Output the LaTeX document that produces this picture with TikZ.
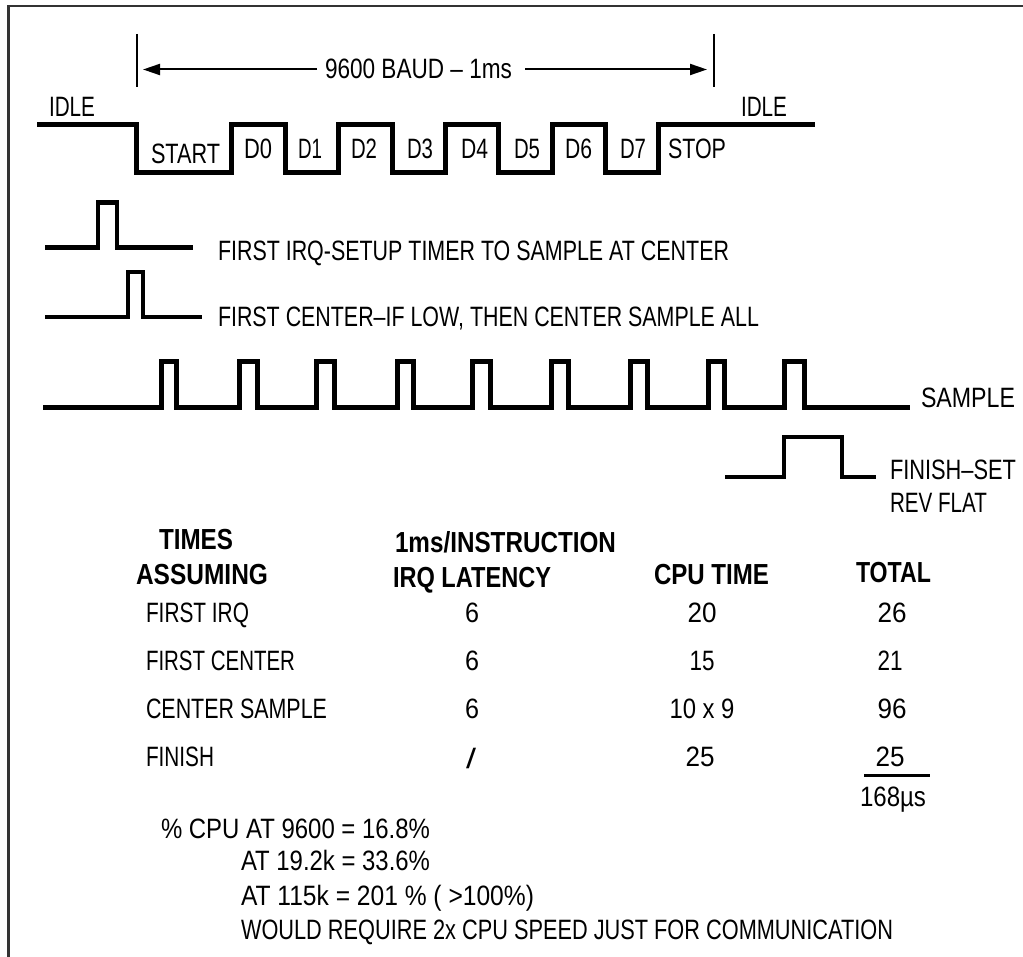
\documentclass[tikz,border=0pt]{standalone}
\usepackage{graphicx}
\usepackage{fontspec}
\setmainfont{Liberation Sans}
\usetikzlibrary{arrows.meta}
\newcommand{\fitw}[2]{\resizebox{#1pt}{\height}{#2}}
\tikzset{
  txt/.style={inner sep=0pt,outer sep=0pt,anchor=base west,text=black,font=\fontsize{28}{32}\selectfont},
  ctr/.style={txt,anchor=base},
  bld/.style={txt,text=black,font=\fontsize{29}{32}\selectfont\bfseries},
  wave/.style={line width=5pt,line cap=butt,line join=miter},
  pulse/.style={line width=4.5pt,line cap=butt,line join=miter},
  dim/.style={line width=2pt,black},
  arr/.style={dim,-{Triangle[length=17pt,width=11pt]}}
}
\begin{document}
\begin{tikzpicture}[x=1pt,y=-1pt]
\useasboundingbox (0,0) rectangle (1023,957);
\fill[white] (0,0) rectangle (1023,957);
% frame
\draw[line width=2.2pt,black!80] (1023,6) -- (8.5,6) -- (8.5,957);
% dimension
\node[txt] (baud) at (325,79) {\fitw{187}{9600 BAUD – 1ms}};
\coordinate (lt) at (136.5,34); \coordinate (lb) at (136.5,87);
\coordinate (rt) at (713.5,34); \coordinate (rb) at (713.5,87);
\coordinate (la) at (143,69.5); \coordinate (ra) at (707,69.5);
\draw[dim] (lt) -- (lb);
\draw[dim] (rt) -- (rb);
\draw[arr] (baud.west |- la) ++(-8,0) -- (la);
\draw[arr] (baud.east |- ra) ++(13,0) -- (ra);
% serial waveform
\draw[wave] (37,125) -| (136,173) -| (231,125) -| (285,173) -| (338,125) -| (392,173) -| (445,125) -| (498,173) -| (552,125) -| (605,173) -| (658,125) -- (815,125);
\node[txt] (idle1) at (49,117) {\fitw{46}{IDLE}};
\node[txt] (idle2) at (741,117) {\fitw{46}{IDLE}};
\node[txt] (start) at (151,164) {\fitw{69}{START}};
\node[txt] (d0) at (244,159) {\fitw{28}{D0}};
\node[txt] (d1) at (298,159) {\fitw{24}{D1}};
\node[txt] (d2) at (351,159) {\fitw{26}{D2}};
\node[txt] (d3) at (407,159) {\fitw{26}{D3}};
\node[txt] (d4) at (461,159) {\fitw{27}{D4}};
\node[txt] (d5) at (514,159) {\fitw{26}{D5}};
\node[txt] (d6) at (565,159) {\fitw{27}{D6}};
\node[txt] (d7) at (620,159) {\fitw{26}{D7}};
\node[txt] (stop) at (668,159) {\fitw{58}{STOP}};
% first IRQ pulse
\draw[pulse] (45,247.5) -| (98,202.5) -| (117,247.5) -- (193,247.5);
\node[txt] (firstirq) at (218,261) {\fitw{511}{FIRST IRQ-SETUP TIMER TO SAMPLE AT CENTER}};
% first center pulse
\draw[pulse] (45,317) -| (128,272) -| (143,317) -- (202,317);
\node[txt] (firstcen) at (218,327) {\fitw{541}{FIRST CENTER–IF LOW, THEN CENTER SAMPLE ALL}};
% sample pulses
\draw[wave] (43,408) -| (161,362) -| (176,408) -| (239,362) -| (257,408) -| (316,362) -| (334,408) -| (397,362) -| (413,408) -| (472,362) -| (490,408) -| (551,362) -| (568,408) -| (630,362) -| (647,408) -| (708,362) -| (724,408) -| (784,362) -| (804,408) -- (910,408);
\node[txt] (sample) at (921,408) {\fitw{94}{SAMPLE}};
% finish pulse
\draw[pulse] (725,477) -| (784,437) -| (842,477) -- (876,477);
\node[txt] (finset) at (890,479) {\fitw{126}{FINISH–SET}};
\node[txt] (rev) at (890,512) {\fitw{97}{REV FLAT}};
% table header
\node[bld] (h1a) at (159,549) {\fitw{74}{TIMES}};
\node[bld] (h1b) at (136,584) {\fitw{132}{ASSUMING}};
\node[bld] (h2a) at (395,552) {\fitw{221}{1ms/INSTRUCTION}};
\node[bld] (h2b) at (393,587) {\fitw{158}{IRQ LATENCY}};
\node[bld] (h3) at (654,584) {\fitw{115}{CPU TIME}};
\node[bld] (h4) at (856,582) {\fitw{75}{TOTAL}};
% table rows
\node[txt] (r1) at (146,622) {\fitw{103}{FIRST IRQ}};
\node[ctr] (r1a) at (472,622) {\fitw{14}{6}};
\node[ctr] (r1b) at (702,622) {\fitw{29}{20}};
\node[ctr] (r1c) at (892,622) {\fitw{29}{26}};
\node[txt] (r2) at (146,670) {\fitw{149}{FIRST CENTER}};
\node[ctr] (r2a) at (472,670) {\fitw{14}{6}};
\node[ctr] (r2b) at (702,670) {\fitw{25}{15}};
\node[ctr] (r2c) at (890,670) {\fitw{25}{21}};
\node[txt] (r3) at (146,718) {\fitw{181}{CENTER SAMPLE}};
\node[ctr] (r3a) at (472,718) {\fitw{14}{6}};
\node[ctr] (r3b) at (702,718) {\fitw{65}{10 x 9}};
\node[ctr] (r3c) at (892,718) {\fitw{29}{96}};
\node[txt] (r4) at (146,766) {\fitw{68}{FINISH}};
\node[ctr] (r4a) at (471,768) {\fitw{10}{/}};
\node[ctr] (r4b) at (700,766) {\fitw{29}{25}};
\node[ctr] (r4c) at (890,766) {\fitw{29}{25}};
\draw[line width=3pt,black] (864,775) -- (930,775);
\node[txt] (tot) at (860,806) {\fitw{66}{168µs}};
% notes
\node[txt] (n1) at (161,838) {\fitw{269}{\% CPU AT  9600 = 16.8\%}};
\node[txt] (n2) at (241,870) {\fitw{189}{AT  19.2k = 33.6\%}};
\node[txt] (n3) at (241,905) {\fitw{293}{AT  115k = 201 \%  ( >100\%)}};
\node[txt] (n4) at (241,939) {\fitw{652}{WOULD REQUIRE 2x  CPU SPEED JUST FOR COMMUNICATION}};
\end{tikzpicture}
\end{document}
